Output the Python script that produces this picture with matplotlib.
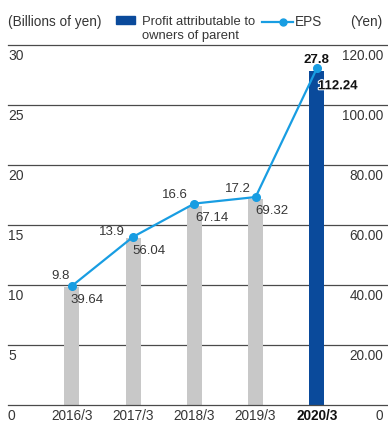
import matplotlib.pyplot as plt
import matplotlib.patheffects as pe
import numpy as np

plt.rcParams['font.family'] = ['Liberation Sans', 'DejaVu Sans']

years = ['2016/3', '2017/3', '2018/3', '2019/3', '2020/3']
profit = [9.8, 13.9, 16.6, 17.2, 27.8]
eps = [39.64, 56.04, 67.14, 69.32, 112.24]
left_ticks = [0, 5, 10, 15, 20, 25, 30]
right_ticks = [0, 20, 40, 60, 80, 100, 120]

# label offsets in pixels (dx, dy, ha)
profit_off = [(-2, 10, 'right'), (-8, 5, 'right'), (-6, 8.5, 'right'),
              (-4.5, 8, 'right'), (0, 8, 'center')]
eps_off = [(-1, -14, 'left'), (-1, -14, 'left'), (1, -14, 'left'),
           (0, -14, 'left'), (1, -18, 'left')]

W, H = 388, 423
txt = '#363636'
gray = '#c8c8c8'
navy = '#0a4a9b'
sky = '#189de2'

fig = plt.figure(figsize=(W / 100, H / 100), dpi=100)
ax = fig.add_axes([8 / W, (H - 405) / H, 380 / W, 360 / H])
ax2 = ax.twinx()

x = np.arange(len(years))
colors = [gray] * (len(years) - 1) + [navy]
ax.bar(x, profit, width=0.245, color=colors, zorder=2)

for v in left_ticks:
    ax.axhline(v, color='#4a4a4a', lw=0.9, zorder=3 if v == 0 else 1, clip_on=False)
    ax.annotate(str(v), xy=(0, v), xycoords=('axes fraction', 'data'),
                xytext=(0, -11 * 0.72), textcoords='offset points',
                ha='left', va='center', fontsize=10, color=txt)
for v in right_ticks:
    lab = '0' if v == 0 else f'{v:.2f}'
    ax2.annotate(lab, xy=(1, v), xycoords=('axes fraction', 'data'),
                 xytext=(-5 * 0.72, -11 * 0.72), textcoords='offset points',
                 ha='right', va='center', fontsize=9.8, color=txt)

ax2.plot(x, eps, color=sky, lw=1.6, marker='o', ms=5.5, zorder=4)

for i in range(len(years)):
    bold = i == len(years) - 1
    dx, dy, ha = profit_off[i]
    ax2.annotate(f'{profit[i]:.1f}', xy=(x[i], eps[i]), xytext=(dx * 0.72, dy * 0.72),
                 textcoords='offset points', ha=ha, va='center', fontsize=9.5,
                 color='#111111' if bold else txt,
                 fontweight='bold' if bold else 'normal')
    dx, dy, ha = eps_off[i]
    t = ax2.annotate(f'{eps[i]:.2f}', xy=(x[i], eps[i]), xytext=(dx * 0.72, dy * 0.72),
                     textcoords='offset points', ha=ha, va='center', fontsize=9.5,
                     color='#111111' if bold else txt,
                     fontweight='bold' if bold else 'normal')
    if bold:
        t.set_path_effects([pe.withStroke(linewidth=1.5, foreground='white')])

ax.set_xlim(-1.04, 5.16)
ax.set_ylim(0, 30)
ax2.set_ylim(0, 120)
for a in (ax, ax2):
    for s in a.spines.values():
        s.set_visible(False)
    a.set_yticks([])
ax.set_xticks(x)
ax.set_xticklabels(years, fontsize=9.8, color=txt)
ax.tick_params(axis='x', length=0, pad=3)
ax.get_xticklabels()[-1].set_fontweight('bold')
ax.get_xticklabels()[-1].set_color('#111111')

# header: unit labels and legend
fig.text(8 / W, 1 - 22 / H, '(Billions of yen)', fontsize=9.8, color=txt, va='center')
fig.text(382 / W, 1 - 22 / H, '(Yen)', fontsize=9.8, color=txt, va='center', ha='right')
fig.patches.append(plt.Rectangle((116 / W, 1 - 24.5 / H), 19 / W, 8.5 / H,
                                 transform=fig.transFigure, color=navy))
fig.text(142.5 / W, 1 - 22 / H, 'Profit attributable to', fontsize=9.4, color=txt, va='center')
fig.text(142.5 / W, 1 - 36.5 / H, 'owners of parent', fontsize=9.4, color=txt, va='center')
fig.lines.append(plt.Line2D([262 / W, 293 / W], [1 - 22 / H, 1 - 22 / H],
                            transform=fig.transFigure, color=sky, lw=1.6))
fig.lines.append(plt.Line2D([283 / W], [1 - 22 / H], transform=fig.transFigure,
                            color=sky, marker='o', ms=5))
fig.text(295 / W, 1 - 22 / H, 'EPS', fontsize=9.8, color=txt, va='center')

fig.savefig('out.png', dpi=100)
